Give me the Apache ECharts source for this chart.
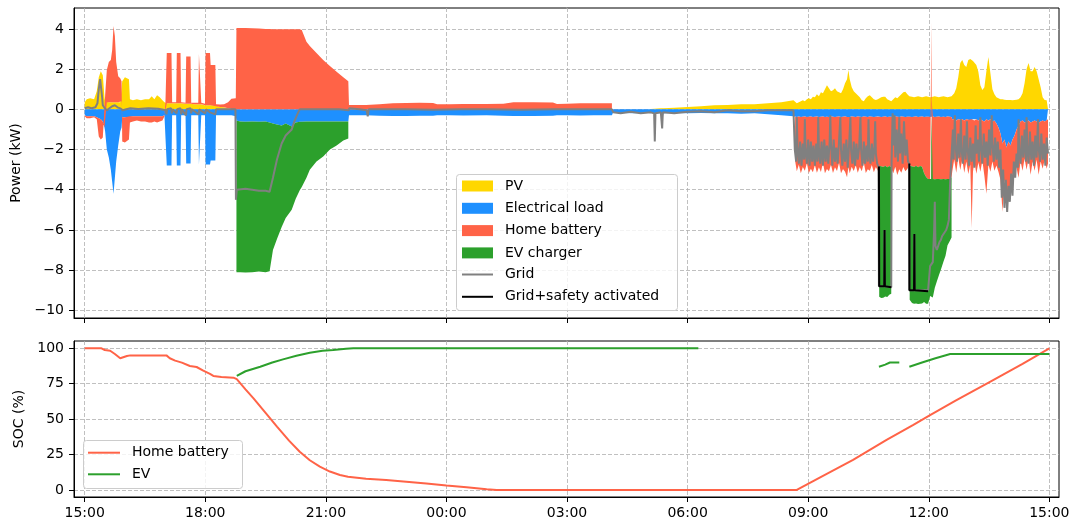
<!DOCTYPE html>
<html><head><meta charset="utf-8">
<script src="https://cdn.jsdelivr.net/npm/echarts@6/dist/echarts.min.js"></script>
<style>html,body{margin:0;padding:0;background:#fff}#c{width:1075px;height:527px}</style>
</head><body><div id="c"></div>
<script>
// ---------- DATA (minutes since 15:00) ----------
const xTicks = [0, 180, 360, 540, 720, 900, 1080, 1260, 1440];
const powerTicks = [-10, -8, -6, -4, -2, 0, 2, 4];
const socTicks = [0, 25, 50, 75, 100];

const times = [
  0,3,8,14,18,21,24,27,29.5,30.5, 33,36,39,41,43,45,47,50,53,55, 56,60,66,67.5,
  72,78,84,90,96,100,104,108,112,116, 119,120.5,
  121.5,122.5,129.5,130.5,136.5,137.5,143,144,150.5,151.5, 158,159,164,169.5,170.5,173,174,179.5,180.5,187, 188,195,196,202,208,214,219,225.5,
  226.5,232,240,250,260,270,276,281,287,294, 300,309,315,321,324,331,336,346,356,366, 376,386,393.5,
  394.5,420,440,460,480,500,520,526,545,565, 600,625,640,670,699,705,720,740,760,787, 788.5,800,820,840,850,851,852,860,862,864, 880,900,920,940,960,980,1000,1020,1040,1058,
  1060.5,1063,1066,1069,1072,1075,1078,1081,1084,1087,
  1090,1093,1096,1099,1102,1105,1108,1111,1114,1117,
  1120,1123,1126,1129,1132,1135,1138,1140,1142,1145,
  1148,1151,1154,1157,1160,1163,1166,1169,1172,1175,
  1178,1181,1184,1185.5,1186,1189,1192,1195,1198,1201,
  1204,1204.5,1207,1210,1213,1216,1219,1222,1225,1228,
  1231,1231.5,1235,1238,1241,1244,1247,1250,1253,1256,
  1259,1262,1263.5,1264,1264.5,1266,1269,1272,1275,1278,
  1282,1285,1288,1291,1294,1295,1298,1301,1304,1307,
  1310,1313,1316,1319,1322,1324,1326,1328,1331,1334,
  1337,1340,1343,1346,1349,1352,1355,1358,1361,1364,
  1367,1370,1373,1376,1379,1382,1385,1388,1391,1394,
  1397,1400,1403,1406,1409,1412,1415,1418,1421,1424,
  1427,1430,1433,1436,1438
];

const pv = [
  .35,.5,.55,.5,.9,1.6,1.9,1.7,.6,.4, .35,.35,.35,.35,.35,.35,.35,.35,.35,.4, 1.4,1.6,1.5,.5,
  .45,.5,.45,.5,.5,.65,.5,.7,.6,.45, .35,.3,
  .3,.3,.3,.3,.3,.3,.3,.3,.28,.28, .28,.28,.25,.25,.25,.25,.25,.2,.2,.2, .2,.2,.15,.12,.1,.05,.02,0,
  0,0,0,0,0,0,0,0,0,0, 0,0,0,0,0,0,0,0,0,0, 0,0,0,
  0,0,0,0,0,0,0,0,0,0, 0,0,0,0,0,0,0,0,0,0, 0,0,0,0,.03,.03,.03,.05,.05,.05, .08,.12,.15,.2,.22,.25,.25,.3,.35,.45,
  .4,.3,.35,.4,.45,.4,.5,.55,.5,.63,
  .6,.75,.65,.85,.8,1.0,1.2,1.05,.9,.95,
  1.05,.9,.85,.8,1.0,1.3,1.5,1.95,1.5,1.1,
  .9,.8,.7,.6,.45,.4,.55,.65,.7,.6,
  .5,.46,.5,.55,.55,.6,.63,.63,.5,.45,
  .4,.4,.5,.6,.55,.65,.75,.85,.88,.75,
  .65,.63,.63,.6,.63,.65,.63,.6,.63,.65,
  .63,.6,.63,.63,.63,.63,.65,.63,.6,.63,
  .65,.63,.6,.63,.65,.65,.8,1.05,1.6,2.3,
  2.45,2.2,2.1,2.45,2.5,2.45,2.4,2.45,2.2,1.87,
  1.2,.96,1.1,1.9,2.6,1.8,1.0,.75,.6,.55,
  .5,.5,.48,.46,.46,.46,.45,.46,.48,.5,
  .6,.8,1.3,2.0,2.3,1.9,1.9,2.1,1.9,1.5,
  1.1,.6,.46,.45,.45
];

const load = [
  -.3,-.35,-.35,-.35,-.4,-.45,-.5,-.6,-.9,-1.1, -2.0,-2.4,-3.0,-3.6,-4.2,-3.4,-2.6,-1.8,-1.1,-.9, -.4,-.4,-.4,-.35,
  -.35,-.35,-.35,-.35,-.35,-.35,-.35,-.35,-.35,-.35, -.3,-.3,
  -.3,-2.8,-2.8,-.3,-.3,-2.8,-2.8,-.3,-.3,-2.7, -2.7,-.3,-.3,-.3,-2.75,-2.75,-.3,-.3,-2.75,-2.75, -2.55,-2.55,-.3,-.3,-.3,-.3,-.3,-.35,
  -.55,-.6,-.62,-.6,-.62,-.6,-.65,-.7,-.75,-.8, -.7,-.85,-.65,-.62,-.62,-.6,-.6,-.6,-.6,-.6, -.6,-.6,-.6,
  -.3,-.3,-.32,-.33,-.33,-.32,-.32,-.3,-.3,-.31, -.3,-.32,-.33,-.33,-.32,-.3,-.3,-.31,-.3,-.3, -.18,-.18,-.2,-.18,-.2,-.4,-.2,-.2,-.6,-.2, -.18,-.2,-.18,-.2,-.2,-.22,-.2,-.25,-.3,-.35,
  -.37,-.38,-.36,-.38,-.37,-.36,-.38,-.37,-.36,-.38,
  -.37,-.36,-.38,-.37,-.36,-.38,-.37,-.38,-.36,-.37,
  -.38,-.37,-.36,-.38,-.37,-.36,-.38,-.37,-.38,-.36,
  -.37,-.38,-.36,-.37,-.38,-.36,-.37,-.38,-.36,-.37,
  -.38,-.37,-.36,-.37,-.37,-.38,-.37,-.36,-.38,-.37,
  -.37,-.37,-.38,-.36,-.37,-.38,-.36,-.37,-.38,-.37,
  -.37,-.37,-.38,-.37,-.36,-.38,-.37,-.36,-.38,-.37,
  -.37,-.38,-.37,-.37,-.37,-.36,-.38,-.37,-.36,-.38,
  -.37,-.38,-.36,-.37,-.38,-.5,-.5,-.55,-.5,-.52,
  -.5,-.55,-.5,-.52,-.55,-.5,-.5,-.55,-.5,-.55,
  -.5,-.55,-.6,-.5,-.55,-.5,-.6,-.55,-.7,-.9,
  -1.2,-1.7,-1.5,-1.9,-1.6,-1.8,-1.5,-1.3,-1.0,-.8,
  -.6,-.55,-.65,-.6,-.55,-.65,-.6,-.55,-.6,-.65,
  -.6,-.55,-.6,-.55,-.5
];

const battery = [
  -.05,-.1,-.1,-.05,-.1,-.9,-1.0,-.8,-.5,.3, 1.6,2.0,2.1,2.6,3.8,3.3,2.0,1.3,1.2,1.0, -1.2,-1.25,-1.1,-.3,
  -.25,-.2,-.25,-.25,-.3,-.3,-.25,-.3,-.25,-.2, -.05,.05,
  .05,2.5,2.5,.05,.05,2.5,2.5,.05,.05,2.35, 2.35,.05,.08,.08,2.5,2.5,.08,.08,2.6,2.6, 2.0,2.0,.1,.12,.15,.3,.5,.55,
  4.05,4.05,4.05,4.03,4.02,4.0,4.0,3.98,3.98,3.98, 3.98,3.98,3.98,3.98,3.95,3.36,3.15,2.8,2.45,2.15, 1.87,1.6,1.4,
  .22,.22,.25,.3,.32,.33,.32,.25,.25,.26, .27,.28,.35,.35,.34,.27,.28,.3,.3,.3,
  null,null,null,null,null,null,null,null,null,null, null,null,null,null,null,null,null,null,null,null,
  -2.2,-2.7,-2.4,-2.8,-2.5,-2.7,-2.3,-2.8,-2.6,-2.75,
  -2.4,-2.8,-2.5,-2.75,-2.3,-2.8,-2.6,-2.7,-2.4,-2.8,
  -2.5,-2.7,-2.3,-2.8,-2.6,-2.75,-3.0,-2.5,-2.8,-2.5,
  -2.7,-2.4,-2.8,-2.5,-2.7,-2.3,-2.8,-2.6,-2.7,-2.4,
  -2.75,-2.5,-2.7,-2.5,-2.45,-2.45,-2.5,-2.45,-2.5,-2.45,
  -2.5,-2.6,-2.8,-2.5,-2.9,-2.6,-2.8,-2.5,-2.7,-2.6,
  -2.4,-2.45,-2.45,-2.5,-2.45,-2.5,-2.45,-2.5,-2.8,-3.0,
  -3.1,-3.1,-3.1,3.7,-3.1,-3.1,-3.1,-3.1,-3.1,-3.1,
  -3.1,-3.1,-3.1,-3.1,-3.0,-2.6,-2.0,-2.6,-1.9,-2.5,
  -2.0,-2.6,-2.1,-2.7,-2.2,-5.4,-2.6,-2.0,-2.7,-2.1,
  -2.6,-2.0,-2.7,-3.7,-2.2,-2.6,-2.0,-2.5,-2.1,-2.2,
  -2.3,-3.4,-2.0,-2.5,-2.9,-2.0,-1.8,-1.5,-1.9,-2.6,
  -2.0,-2.5,-1.8,-2.4,-1.9,-2.6,-2.0,-2.5,-1.9,-2.6,
  -2.0,-2.4,-1.9,-2.4,-2.2
];

const ev = [
  null,null,null,null,null,null,null,null,null,null, null,null,null,null,null,null,null,null,null,null, null,null,null,null,
  null,null,null,null,null,null,null,null,null,null, null,null,
  null,null,null,null,null,null,null,null,null,null, null,null,null,null,null,null,null,null,null,null, null,null,null,null,null,null,null,null,
  -7.55,-7.5,-7.5,-7.5,-7.45,-7.5,-7.4,-6.3,-5.7,-5.05, -4.7,-4.15,-3.8,-3.4,-3.25,-2.8,-2.4,-2.0,-1.75,-1.4, -1.2,-.95,-.85,
  null,null,null,null,null,null,null,null,null,null, null,null,null,null,null,null,null,null,null,null,
  null,null,null,null,null,null,null,null,null,null, null,null,null,null,null,null,null,null,null,null,
  null,null,null,null,null,null,null,null,null,null,
  null,null,null,null,null,null,null,null,null,null,
  null,null,null,null,null,null,null,null,null,null,
  null,null,null,null,null,null,null,null,null,null,
  null,null,null,null,-6.5,-6.55,-6.5,-6.5,-6.45,-6.4,
  -6.3,null,null,null,null,null,null,null,null,null,
  null,-6.65,-6.8,-6.8,-6.85,-6.8,-6.85,-6.8,-6.4,-6.3,
  -6.2,-5.8,-5.9,-8.9,-5.9,-5.9,-5.4,-5.1,-4.8,-4.5,
  -4.1,-3.8,-3.3,-3.1,-3.0,null,null,null,null,null,
  null,null,null,null,null,null,null,null,null,null,
  null,null,null,null,null,null,null,null,null,null,
  null,null,null,null,null,null,null,null,null,null,
  null,null,null,null,null,null,null,null,null,null,
  null,null,null,null,null
];

const gridTimes = [
  0,5,10,16,19,21,23,25,26,27, 29,33,37,41,45,49,53,57,62,68,
  80,95,110,121,122,123,129,130,131,137, 138,143,144,145,151,152,158,159,160,170,
  171,180,181,187,195,196,210,225,
  225.7,227,240,250,260,270,276,281,287,294, 300,309,313,318,321,340,360,380,394,395,
  410,421,422.5,424,440,
  480,520,560,600,650,700,750,787,789,800, 815,830,845,850,851,852,860,862,863,880,
  900,920,940,960,980,1000,1020,1040,1058,
  1060,1062,1063,1064,1066,1068,1070,1072,1074,1075,
  1076,1078,1080,1082,1084,1086,1088,1090,1092,1094,
  1095,1096,1098,1100,1102,1104,1106,1108,1110,1112,
  1113,1114,1116,1118,1120,1122,1124,1126,1128,1129,
  1131,1133,1135,1137,1139,1141,1143,1144,1146,1148,
  1150,1152,1154,1156,1158,1159,1161,1163,1165,1167,
  1169,1170,1171,1173,1175,1177,1179,1180,1181,1183,
  1185,1185.6,1193.5,1194,1194.5,1204,1204.5,1206,1207,1209,
  1210,1212,1214,1216,1217,1219,1221,1223,1225,1227,
  1229,1230.8,1231,1238,1238.5,1239,1259,1262,1264,1266,
  1268,1269,1270,1272,1274,1276,1278,1280,1282,1284,
  1286,1288,1290,1292,1294,1296,1297,1299,1300,1302,
  1304,1306,1308,1309,1311,1313,1315,1317,1318,1320,
  1322,1324,1326,1328,1330,1331,1333,1335,1337,1338,
  1340,1342,1344,1346,1348,1350,1352,1354,1355,1357,
  1359,1361,1363,1365,1367,1369,1371,1373,1375,1377,
  1379,1381,1383,1385,1387,1389,1391,1393,1394,1395,
  1397,1399,1401,1403,1405,1406,1407,1409,1411,1413,
  1415,1417,1419,1421,1423,1424,1426,1428,1430,1432,
  1434,1436,1438
];
const grid = [
  .05,.1,.05,.1,.3,1.0,1.5,1.45,.6,.2, .1,-.05,.05,.15,.2,.1,.05,-.05,0,.05,
  .02,.05,.03,-.05,-.25,0,.05,-.2,0,-.2, 0,.05,-.25,0,-.3,0,.05,-.2,0,-.25,
  0,-.2,0,-.15,-.25,0,0,0,
  -4.5,-4.0,-3.95,-4.0,-4.05,-4.05,-4.1,-3.4,-2.5,-1.7, -1.3,-1.0,-.6,-.2,0,0,0,0,-.05,.05,
  0,-.05,-.35,0,0,
  0,-.02,0,0,-.02,0,0,0,-.15,-.2, -.12,-.2,-.15,-.2,-1.6,-.2,-.15,-.95,-.15,-.2,
  -.12,-.1,-.15,-.05,-.1,-.1,-.05,-.05,-.05,
  -2.0,-2.6,-0.4,-1.8,-2.7,-1.6,-2.8,-1.7,-2.5,-0.5,
  -1.9,-2.7,-1.5,-2.8,-1.6,-2.6,-1.8,-2.8,-1.7,-2.6,
  -0.4,-1.9,-2.7,-1.6,-2.8,-1.5,-2.6,-1.8,-2.7,-1.6,
  -0.3,-1.7,-2.8,-1.5,-2.6,-1.9,-2.7,-1.6,-0.4,-2.0,
  -2.8,-1.7,-2.6,-1.5,-2.9,-1.8,-0.4,-2.0,-2.7,-1.6,
  -2.8,-1.7,-2.5,-1.9,-0.4,-2.0,-2.8,-1.6,-2.7,-1.8,
  -2.6,-0.5,-1.9,-2.7,-1.7,-2.6,-1.8,-0.6,-2.2,-2.7,
  -2.85,-8.8,-8.8,-6.0,-8.8,-8.85,-2.6,-0.2,-1.8,-0.3,
  -2.4,-1.0,-2.6,-0.4,-2.2,-1.2,-2.7,-0.6,-2.3,-1.5,
  -2.6,-2.7,-9.0,-9.0,-6.2,-9.0,-9.0,-7.8,-7.7,-7.6,
  -6.0,-4.6,-6.8,-7.0,-6.8,-6.6,-6.5,-6.3,-6.2,-6.1,
  -6.0,-5.8,-5.5,-3.5,-2.3,-1.0,-2.5,-0.3,-1.8,-2.6,
  -1.2,-2.4,-0.5,-2.0,-2.7,-1.3,-2.5,-0.6,-1.9,-2.8,
  -1.4,-2.6,-1.7,-2.9,-0.8,-2.2,-1.5,-2.6,-0.4,-1.8,
  -2.7,-1.2,-2.4,-1.6,-2.8,-1.0,-2.3,-0.3,-1.7,-2.6,
  -1.4,-2.5,-1.6,-2.9,-2.0,-4.4,-3.0,-4.9,-3.5,-5.1,
  -3.8,-4.6,-3.2,-4.3,-2.6,-3.4,-2.2,-2.9,-0.5,-2.0,
  -2.7,-1.3,-2.4,-1.0,-2.6,-0.4,-1.8,-2.7,-1.1,-2.5,
  -1.6,-2.8,-1.3,-2.4,-0.5,-1.9,-2.6,-1.2,-2.5,-1.7,
  -2.8,-1.4,-2.2
];

const safetyTimes = [1185.6, 1186, 1193.5, 1194, 1194.5, 1204, 1210, 1231, 1231.2, 1238, 1238.5, 1239, 1259];
const gridSafety  = [-2.85, -8.8, -8.8, -6.0, -8.8, -8.85, null, -2.7, -9.0, -9.0, -6.2, -9.0, -9.05];

const socTimes = [0,25,30,38,45,53,55,63,68,122, 127,135,145,157,167,177,187,192,204,222,
  227,240,252,270,287,305,321,336,351,366, 381,393,420,450,480,510,540,570,600,615,
  1063,1100,1147,1197,1237,1260,1300,1350,1400,1440];
const socHome = [100,100,98.8,98.3,96,93,92.7,94.6,95,95, 93,91.3,89.9,87.5,86.8,84.2,81.9,80.5,79.8,79.3,
  78.2,71,64.7,54.5,44.7,34.8,27,21,16.5,13, 10.6,9.4,8,7,5.8,4.5,3.2,2,0.5,0,
  0,9.5,21.2,35.3,45.9,52.3,63,76,89,100];

const evSocTimes = [227,240,262,280,296,316,336,355,371,390, 401,916,1000,1185.6,1195,1202,1216,1223,1231,1250, 1270,1292,1440];
const socEV = [80.5,83.8,87,90,92.2,94.8,96.9,98.2,98.8,99.6, 100,100,null,87,88.5,90,90,null,87,90, 93,96,96];

// ---------- checks ----------
[pv, load, battery, ev].forEach(function (a, i) {
  if (a.length !== times.length) throw new Error('length mismatch in stacked series ' + i + ': ' + a.length + ' vs ' + times.length);
});
if (gridTimes.length !== grid.length) throw new Error('grid length ' + gridTimes.length + ' vs ' + grid.length);
if (socTimes.length !== socHome.length) throw new Error('soc length');
if (evSocTimes.length !== socEV.length) throw new Error('ev soc length');

// ---------- chart ----------
const FONT = 'DejaVu Sans';
const zip = (xs, ys) => xs.map((x, i) => [x, ys[i]]);
// stacked areas: value first so the stacked dimension is the power (y) value
const zipStack = (ys) => times.map((t, i) => [ys[i], t]);
const fmtTime = v => { const h = (15 + Math.floor(v / 60)) % 24; const m = Math.round(((v % 60) + 60) % 60); return String(h).padStart(2, '0') + ':' + String(m).padStart(2, '0'); };
const fmtNum = v => (v < 0 ? '\u2212' : '') + Math.abs(v);
const XMIN = -16, XMAX = 1454.4;
const split = { show: true, lineStyle: { color: '#b0b0b0', width: 0.8, type: [4, 2] } };
const tick = (vals) => ({ show: true, inside: false, length: 5, lineStyle: { color: '#000', width: 1 }, customValues: vals });
const lab = (vals, fmt, show, margin) => ({ show: show, customValues: vals, formatter: fmt, color: '#000', fontFamily: FONT, fontSize: 14, margin: margin });
const axLine = { show: true, onZero: false, lineStyle: { color: '#000', width: 1 } };

function area(name, data, color) {
  return { name: name, type: 'line', xAxisIndex: 0, yAxisIndex: 0, stack: 'p', stackStrategy: 'samesign',
    data: zipStack(data), encode: { x: 1, y: 0 }, showSymbol: false, symbol: 'none', silent: true, connectNulls: false,
    lineStyle: { width: 0, opacity: 0 }, itemStyle: { color: color }, areaStyle: { color: color, opacity: 1 }, z: 2 };
}
function line(name, xs, ys, color, xi, yi, z) {
  return { name: name, type: 'line', xAxisIndex: xi, yAxisIndex: yi, data: zip(xs, ys), showSymbol: false, symbol: 'none',
    silent: true, connectNulls: false, lineStyle: { width: 2, color: color }, itemStyle: { color: color }, z: z };
}

const chart = echarts.init(document.getElementById('c'), null, { renderer: 'canvas' });
chart.setOption({
  backgroundColor: '#fff',
  animation: false,
  textStyle: { fontFamily: FONT },
  grid: [
    { left: 74, right: 16, top: 8, height: 310, show: true, borderColor: '#000', borderWidth: 1, backgroundColor: 'transparent', containLabel: false, outerBoundsMode: 'none' },
    { left: 74, right: 16, top: 341, height: 156, show: true, borderColor: '#000', borderWidth: 1, backgroundColor: 'transparent', containLabel: false, outerBoundsMode: 'none' }
  ],
  xAxis: [
    { type: 'value', gridIndex: 0, min: XMIN, max: XMAX, axisLine: axLine,
      axisTick: tick(xTicks), axisLabel: lab(xTicks, fmtTime, false, 9), splitLine: split },
    { type: 'value', gridIndex: 1, min: XMIN, max: XMAX, axisLine: axLine,
      axisTick: tick(xTicks), axisLabel: lab(xTicks, fmtTime, true, 9), splitLine: split }
  ],
  yAxis: [
    { type: 'value', gridIndex: 0, min: -10.38, max: 5.04, name: 'Power (kW)', nameLocation: 'middle', nameGap: 49,
      nameTextStyle: { color: '#000', fontFamily: FONT, fontSize: 14 }, axisLine: axLine,
      axisTick: tick(powerTicks), axisLabel: lab(powerTicks, fmtNum, true, 10), splitLine: split },
    { type: 'value', gridIndex: 1, min: -4.95, max: 105.15, name: 'SOC (%)', nameLocation: 'middle', nameGap: 47,
      nameTextStyle: { color: '#000', fontFamily: FONT, fontSize: 14 }, axisLine: axLine,
      axisTick: tick(socTicks), axisLabel: lab(socTicks, v => String(v), true, 10), splitLine: split }
  ],
  graphic: [
    { type: 'rect', z: 100, shape: { x: 456.5, y: 174.5, width: 221, height: 136, r: 3 }, style: { fill: 'rgba(255,255,255,0.8)', stroke: '#cccccc', lineWidth: 1 } },
    { type: 'rect', z: 100, shape: { x: 83.5, y: 440.5, width: 159, height: 48, r: 3 }, style: { fill: 'rgba(255,255,255,0.8)', stroke: '#cccccc', lineWidth: 1 } }
  ],
  legend: [
    { data: ['PV', 'Electrical load', 'Home battery', 'EV charger'], orient: 'vertical', left: 462, top: 179, padding: 0,
      itemWidth: 31, itemHeight: 11, itemGap: 8.3, icon: 'rect', z: 110, selectedMode: false,
      itemStyle: { borderWidth: 0 }, textStyle: { color: '#000', fontFamily: FONT, fontSize: 14, lineHeight: 14, padding: [0, 0, 0, 7] } },
    { data: ['Grid', 'Grid+safety activated'], orient: 'vertical', left: 462, top: 267.5, padding: 0,
      itemWidth: 31, itemHeight: 2, itemGap: 8.3, icon: 'rect', z: 110, selectedMode: false,
      itemStyle: { borderWidth: 0 }, textStyle: { color: '#000', fontFamily: FONT, fontSize: 14, lineHeight: 14, padding: [0, 0, 0, 7] } },
    { data: ['Home battery', 'EV'], orient: 'vertical', left: 88, top: 445.7, padding: 0,
      itemWidth: 32, itemHeight: 2, itemGap: 7.6, icon: 'rect', z: 110, selectedMode: false,
      itemStyle: { borderWidth: 0 }, textStyle: { color: '#000', fontFamily: FONT, fontSize: 14, lineHeight: 14, padding: [0, 0, 0, 7] } }
  ],
  series: [
    area('PV', pv, '#ffd700'),
    area('Electrical load', load, '#1e90ff'),
    area('Home battery', battery, '#ff6347'),
    area('EV charger', ev, '#2ca02c'),
    line('Grid', gridTimes, grid, '#808080', 0, 0, 3),
    line('Grid+safety activated', safetyTimes, gridSafety, '#000000', 0, 0, 4),
    line('Home battery', socTimes, socHome, '#ff6347', 1, 1, 3),
    line('EV', evSocTimes, socEV, '#2ca02c', 1, 1, 4)
  ]
});
</script></body></html>
